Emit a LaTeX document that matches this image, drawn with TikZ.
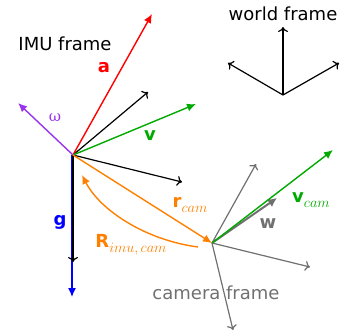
\documentclass[tikz,border=0pt]{standalone}
\usepackage{fontspec}
\setmainfont{DejaVu Sans}
\newfontfamily\omegafont{DejaVu Serif}
\usetikzlibrary{arrows.meta}
\definecolor{imugreen}{RGB}{0,170,0}
\definecolor{imuorange}{RGB}{255,128,0}
\definecolor{imupurple}{RGB}{153,51,238}
\definecolor{camgray}{RGB}{112,112,112}
\newcommand{\lblsub}[1]{\raisebox{-5pt}{\fontsize{15}{16}\selectfont$#1$}}
\tikzset{
  vec/.style={line width=1.4pt,-{Latex[length=9pt,width=8pt]}},
  axis/.style={line width=1.2pt,-{To[length=5pt,width=10pt]}},
  lbl/.style={font=\fontsize{18}{20}\selectfont}
}
\begin{document}
\begin{tikzpicture}[x=1pt,y=-1pt]
\useasboundingbox (0,0) rectangle (347,335);

% Origins of the frames
\coordinate (imu) at (73,155);
\coordinate (cam) at (212,243);
\coordinate (world) at (283,95);

% World frame
\node[lbl] (worldlbl) at (283,14) {world frame};
\coordinate (wup) at (283,27);
\coordinate (wleft) at (228,63);
\coordinate (wright) at (339,63);
\draw[axis] (world) -- (wup);
\draw[axis] (world) -- (wleft);
\draw[axis] (world) -- (wright);

% IMU frame
\node[lbl] (imulbl) at (65,44) {IMU frame};
\coordinate (ax1) at (148,92);
\coordinate (ax2) at (182,182);
\coordinate (ax3) at (73,262);
\coordinate (gtip) at (72,297);
\draw[vec,blue] (72,155) -- (gtip);
\draw[axis] (imu) -- (ax1);
\draw[axis] (imu) -- (ax2);
\draw[axis] (imu) -- (ax3);
\node[lbl,blue] (glbl) at (60,222) {\textbf{g}};

% Acceleration, velocity, angular rate
\coordinate (atip) at (152,14);
\coordinate (vtip) at (196,104);
\coordinate (wtip) at (18,103);
\draw[vec,red] (imu) -- (atip);
\draw[vec,imugreen] (imu) -- (vtip);
\draw[vec,imupurple] (imu) -- (wtip);
\node[lbl,red] (albl) at (104,68) {\textbf{a}};
\node[lbl,imugreen] (vlbl) at (150,136) {\textbf{v}};
\node[imupurple,font=\omegafont\fontsize{15}{16}\selectfont] (omlbl) at (55,118) {ω};

% Camera frame
\coordinate (cup) at (256,164);
\coordinate (cright) at (310,267);
\coordinate (cdown) at (233,330);
\coordinate (wcam) at (277,198);
\draw[axis,camgray] (cam) -- (cup);
\draw[axis,camgray] (cam) -- (cright);
\draw[axis,camgray] (cam) -- (cdown);
\draw[line width=2pt,camgray,-{Latex[length=9pt,width=9pt]}] (cam) -- (wcam);
\node[lbl,camgray] (wlbl) at (268,224) {\textbf{w}};
\node[lbl,camgray] (camlbl) at (216,293) {camera frame};

% Velocity in camera frame
\coordinate (vctip) at (333,150);
\draw[vec,imugreen] (cam) -- (vctip);
\node[lbl,imugreen] (vclbl) at (311,200) {\textbf{v}\lblsub{cam}};

% Extrinsics IMU -> camera
\coordinate (rstart) at (198,247);
\coordinate (rend) at (82,175);
\draw[vec,imuorange] (imu) -- (cam);
\draw[vec,imuorange] (rstart) .. controls (145,240) and (100,210) .. (rend);
\node[lbl,imuorange] (rlbl) at (190,205) {\textbf{r}\lblsub{cam}};
\node[lbl,imuorange] (Rlbl) at (131,245) {\textbf{R}\lblsub{imu,cam}};

\end{tikzpicture}
\end{document}
